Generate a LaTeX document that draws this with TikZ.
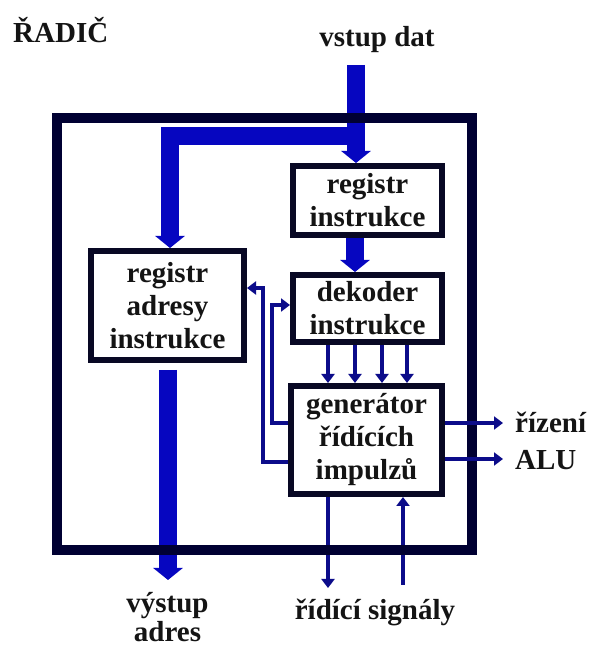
\documentclass[tikz,border=0pt]{standalone}
\usepackage{fontspec}
\setmainfont{Liberation Serif}
\usetikzlibrary{arrows.meta}
\definecolor{framec}{RGB}{0,0,50}
\definecolor{boxc}{RGB}{8,8,36}
\definecolor{textc}{RGB}{20,20,20}
\definecolor{busc}{RGB}{6,6,192}
\definecolor{sigc}{RGB}{12,12,138}
\begin{document}
\begin{tikzpicture}[x=1pt,y=1pt,
  txt/.style={font=\fontsize{29}{33}\selectfont\bfseries, text=textc, inner sep=0pt},
  blk/.style={txt, draw=boxc, line width=6pt, fill=white, align=center, rectangle},
  bus/.style={draw=busc, line width=18pt, line join=miter, -{Triangle[width=29pt,length=12pt]}},
  sig/.style={draw=sigc, line width=4pt, line join=miter, -{Triangle[width=13pt,length=9pt]}}
]
\useasboundingbox (0,0) rectangle (590,649);
\clip (0,0) rectangle (590,649);
\fill[white] (0,0) rectangle (590,649);

% boxes
\node[blk, minimum width=149pt, minimum height=69pt] (RI) at (367.5,448.5) {registr\\instrukce};
\node[blk, minimum width=153pt, minimum height=109pt] (RAI) at (167.5,343.5) {registr\\adresy\\instrukce};
\node[blk, minimum width=149pt, minimum height=67pt] (DI) at (367.5,340.5) {dekoder\\instrukce};
\node[blk, minimum width=151pt, minimum height=108pt] (GEN) at (366.5,209) {generátor\\řídících\\impulzů};

% texts
\node[txt, anchor=base west] (title) at (13,606) {ŘADIČ};
\node[txt, anchor=base] (vstup) at (377,602) {vstup dat};
\node[txt, anchor=base] (vys1) at (167.5,37) {výstup};
\node[txt, anchor=base] (vys2) at (167.5,8) {adres};
\node[txt, anchor=base] (ridsig) at (375,29) {řídící signály};
\node[txt, anchor=base west] (rizeni) at (515,216) {řízení};
\node[txt, anchor=base west] (alu) at (515,179) {ALU};

% coordinates
\coordinate (in) at (356,584);
\coordinate (j) at (356,513);
\coordinate (addr) at (168,69);
\coordinate (sout) at (328,61);
\coordinate (sin) at (403,64);
\coordinate (o1) at (503,226);
\coordinate (o2) at (503,190);

% thick buses
\draw[bus] (in) -- (in |- RI.north);
\draw[bus] (j) -| ([xshift=2.5pt]RAI.north);
\draw[bus] ([xshift=-12.5pt]RI.south) -- ([xshift=-12.5pt]DI.north);
\draw[bus] ([xshift=0.5pt,yshift=-7pt]RAI.south) -- (addr);

% thin signals inside
\draw[sig] ([xshift=-39.5pt]DI.south) -- ([xshift=-38.5pt]GEN.north);
\draw[sig] ([xshift=-12.5pt]DI.south) -- ([xshift=-11.5pt]GEN.north);
\draw[sig] ([xshift=14.5pt]DI.south) -- ([xshift=15.5pt]GEN.north);
\draw[sig] ([xshift=39.5pt]DI.south) -- ([xshift=40.5pt]GEN.north);
\draw[sig] ([yshift=-22pt]GEN.west) -- ++(-25,0) |- ([yshift=17.5pt]RAI.east);
\draw[sig] ([yshift=17pt]GEN.west) -- ++(-16,0) |- ([yshift=3.5pt]DI.west);
\draw[sig] ([xshift=-38.5pt]GEN.south) -- (sout);
\draw[sig] (sin) -- ([xshift=36.5pt]GEN.south);

% frame
\draw[framec, line width=10pt] (57,531) rectangle (472,99);

% outputs to the right
\draw[sig] ([yshift=17pt]GEN.east) -- (o1);
\draw[sig] ([yshift=-19pt]GEN.east) -- (o2);
\end{tikzpicture}
\end{document}
